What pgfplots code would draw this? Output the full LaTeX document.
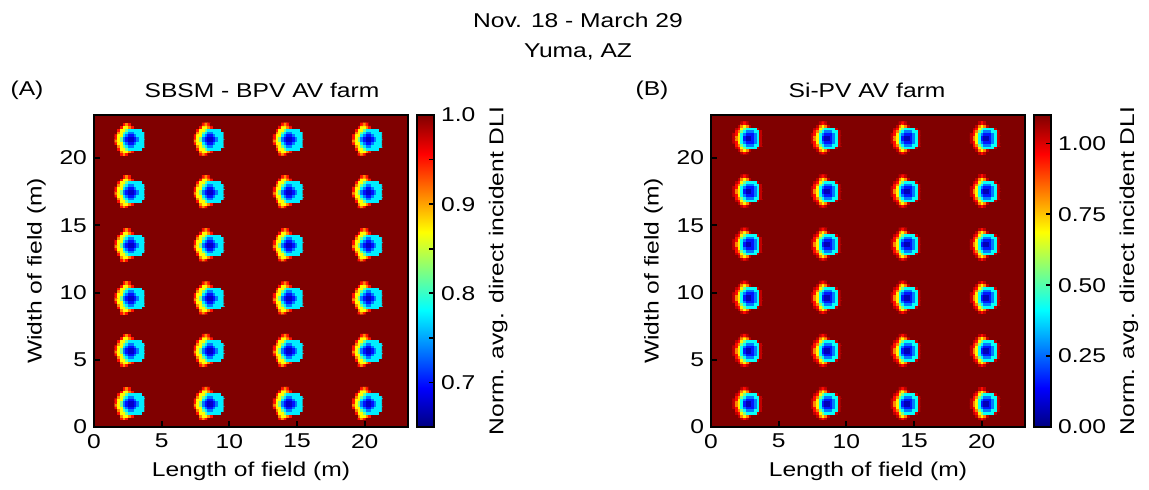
\documentclass[border=0pt]{standalone}
\usepackage{fontspec}
\setmainfont{Liberation Sans}[FakeStretch=1.23]
\usepackage{pgfplots}
\usepackage{pgfplotstable}
\pgfplotsset{compat=1.18}

% one shading spot (relative to its dark core), 0.2 m cells
\pgfplotstableread[row sep=\\]{
x y c\\
-1.1 -1.1 1\\ -0.9 -1.1 1\\ -0.7 -1.1 .95\\ -0.5 -1.1 .91\\ -0.3 -1.1 .95\\ -0.1 -1.1 1\\ 0.1 -1.1 1\\ 0.3 -1.1 1\\ 0.5 -1.1 1\\ 0.7 -1.1 1\\ 0.9 -1.1 1\\ 1.1 -1.1 1\\
-1.1 -0.9 1\\ -0.9 -0.9 1\\ -0.7 -0.9 .91\\ -0.5 -0.9 .87\\ -0.3 -0.9 .87\\ -0.1 -0.9 .91\\ 0.1 -0.9 .95\\ 0.3 -0.9 1\\ 0.5 -0.9 1\\ 0.7 -0.9 1\\ 0.9 -0.9 1\\ 1.1 -0.9 1\\
-1.1 -0.7 1\\ -0.9 -0.7 .95\\ -0.7 -0.7 .87\\ -0.5 -0.7 .87\\ -0.3 -0.7 .82\\ -0.1 -0.7 .775\\ 0.1 -0.7 .775\\ 0.3 -0.7 .775\\ 0.5 -0.7 .775\\ 0.7 -0.7 .775\\ 0.9 -0.7 1\\ 1.1 -0.7 1\\
-1.1 -0.5 1\\ -0.9 -0.5 .91\\ -0.7 -0.5 .87\\ -0.5 -0.5 .82\\ -0.3 -0.5 .775\\ -0.1 -0.5 .735\\ 0.1 -0.5 .735\\ 0.3 -0.5 .775\\ 0.5 -0.5 .775\\ 0.7 -0.5 .775\\ 0.9 -0.5 .775\\ 1.1 -0.5 1\\
-1.1 -0.3 .95\\ -0.9 -0.3 .87\\ -0.7 -0.3 .87\\ -0.5 -0.3 .775\\ -0.3 -0.3 .735\\ -0.1 -0.3 .70\\ 0.1 -0.3 .70\\ 0.3 -0.3 .735\\ 0.5 -0.3 .775\\ 0.7 -0.3 .775\\ 0.9 -0.3 .775\\ 1.1 -0.3 1\\
-1.1 -0.1 .91\\ -0.9 -0.1 .87\\ -0.7 -0.1 .82\\ -0.5 -0.1 .735\\ -0.3 -0.1 .70\\ -0.1 -0.1 .675\\ 0.1 -0.1 .675\\ 0.3 -0.1 .70\\ 0.5 -0.1 .735\\ 0.7 -0.1 .775\\ 0.9 -0.1 .775\\ 1.1 -0.1 1\\
-1.1 0.1 .95\\ -0.9 0.1 .87\\ -0.7 0.1 .82\\ -0.5 0.1 .735\\ -0.3 0.1 .70\\ -0.1 0.1 .675\\ 0.1 0.1 .675\\ 0.3 0.1 .70\\ 0.5 0.1 .735\\ 0.7 0.1 .775\\ 0.9 0.1 .775\\ 1.1 0.1 1\\
-1.1 0.3 .95\\ -0.9 0.3 .87\\ -0.7 0.3 .87\\ -0.5 0.3 .775\\ -0.3 0.3 .735\\ -0.1 0.3 .70\\ 0.1 0.3 .70\\ 0.3 0.3 .735\\ 0.5 0.3 .775\\ 0.7 0.3 .775\\ 0.9 0.3 .775\\ 1.1 0.3 1\\
-1.1 0.5 1\\ -0.9 0.5 .91\\ -0.7 0.5 .87\\ -0.5 0.5 .82\\ -0.3 0.5 .775\\ -0.1 0.5 .735\\ 0.1 0.5 .735\\ 0.3 0.5 .775\\ 0.5 0.5 .775\\ 0.7 0.5 .775\\ 0.9 0.5 .775\\ 1.1 0.5 1\\
-1.1 0.7 1\\ -0.9 0.7 .95\\ -0.7 0.7 .87\\ -0.5 0.7 .87\\ -0.3 0.7 .82\\ -0.1 0.7 .775\\ 0.1 0.7 .775\\ 0.3 0.7 .775\\ 0.5 0.7 .775\\ 0.7 0.7 .775\\ 0.9 0.7 1\\ 1.1 0.7 1\\
-1.1 0.9 1\\ -0.9 0.9 1\\ -0.7 0.9 .95\\ -0.5 0.9 .87\\ -0.3 0.9 .87\\ -0.1 0.9 .91\\ 0.1 0.9 .95\\ 0.3 0.9 1\\ 0.5 0.9 1\\ 0.7 0.9 1\\ 0.9 0.9 1\\ 1.1 0.9 1\\
-1.1 1.1 1\\ -0.9 1.1 1\\ -0.7 1.1 1\\ -0.5 1.1 .95\\ -0.3 1.1 .91\\ -0.1 1.1 .95\\ 0.1 1.1 1\\ 0.3 1.1 1\\ 0.5 1.1 1\\ 0.7 1.1 1\\ 0.9 1.1 1\\ 1.1 1.1 1\\
}\spotA

\pgfplotstableread[row sep=\\]{
x y c\\
-1.1 -1.1 1.1\\ -0.9 -1.1 1.1\\ -0.7 -1.1 1.1\\ -0.5 -1.1 1.03\\ -0.3 -1.1 .95\\ -0.1 -1.1 1.03\\ 0.1 -1.1 1.1\\ 0.3 -1.1 1.1\\ 0.5 -1.1 1.1\\ 0.7 -1.1 1.1\\ 0.9 -1.1 1.1\\ 1.1 -1.1 1.1\\
-1.1 -0.9 1.1\\ -0.9 -0.9 1.1\\ -0.7 -0.9 1.03\\ -0.5 -0.9 .82\\ -0.3 -0.9 .70\\ -0.1 -0.9 .82\\ 0.1 -0.9 1.03\\ 0.3 -0.9 1.1\\ 0.5 -0.9 1.1\\ 0.7 -0.9 1.1\\ 0.9 -0.9 1.1\\ 1.1 -0.9 1.1\\
-1.1 -0.7 1.1\\ -0.9 -0.7 1.03\\ -0.7 -0.7 .95\\ -0.5 -0.7 .70\\ -0.3 -0.7 .55\\ -0.1 -0.7 .42\\ 0.1 -0.7 .42\\ 0.3 -0.7 .42\\ 0.5 -0.7 .42\\ 0.7 -0.7 1.03\\ 0.9 -0.7 1.1\\ 1.1 -0.7 1.1\\
-1.1 -0.5 1.1\\ -0.9 -0.5 .95\\ -0.7 -0.5 .82\\ -0.5 -0.5 .55\\ -0.3 -0.5 .42\\ -0.1 -0.5 .27\\ 0.1 -0.5 .27\\ 0.3 -0.5 .27\\ 0.5 -0.5 .42\\ 0.7 -0.5 .42\\ 0.9 -0.5 1.03\\ 1.1 -0.5 1.1\\
-1.1 -0.3 1.03\\ -0.9 -0.3 .95\\ -0.7 -0.3 .70\\ -0.5 -0.3 .42\\ -0.3 -0.3 .27\\ -0.1 -0.3 .16\\ 0.1 -0.3 .16\\ 0.3 -0.3 .16\\ 0.5 -0.3 .27\\ 0.7 -0.3 .42\\ 0.9 -0.3 1.03\\ 1.1 -0.3 1.1\\
-1.1 -0.1 1.03\\ -0.9 -0.1 .82\\ -0.7 -0.1 .70\\ -0.5 -0.1 .42\\ -0.3 -0.1 .16\\ -0.1 -0.1 .06\\ 0.1 -0.1 .06\\ 0.3 -0.1 .16\\ 0.5 -0.1 .27\\ 0.7 -0.1 .42\\ 0.9 -0.1 1.03\\ 1.1 -0.1 1.1\\
-1.1 0.1 1.03\\ -0.9 0.1 .82\\ -0.7 0.1 .70\\ -0.5 0.1 .42\\ -0.3 0.1 .16\\ -0.1 0.1 .06\\ 0.1 0.1 .06\\ 0.3 0.1 .16\\ 0.5 0.1 .27\\ 0.7 0.1 .42\\ 0.9 0.1 1.03\\ 1.1 0.1 1.1\\
-1.1 0.3 1.03\\ -0.9 0.3 .95\\ -0.7 0.3 .70\\ -0.5 0.3 .42\\ -0.3 0.3 .27\\ -0.1 0.3 .16\\ 0.1 0.3 .16\\ 0.3 0.3 .16\\ 0.5 0.3 .27\\ 0.7 0.3 .42\\ 0.9 0.3 1.03\\ 1.1 0.3 1.1\\
-1.1 0.5 1.1\\ -0.9 0.5 .95\\ -0.7 0.5 .82\\ -0.5 0.5 .55\\ -0.3 0.5 .42\\ -0.1 0.5 .27\\ 0.1 0.5 .27\\ 0.3 0.5 .27\\ 0.5 0.5 .42\\ 0.7 0.5 .42\\ 0.9 0.5 1.03\\ 1.1 0.5 1.1\\
-1.1 0.7 1.1\\ -0.9 0.7 1.03\\ -0.7 0.7 .95\\ -0.5 0.7 .70\\ -0.3 0.7 .55\\ -0.1 0.7 .42\\ 0.1 0.7 .42\\ 0.3 0.7 .42\\ 0.5 0.7 .42\\ 0.7 0.7 1.03\\ 0.9 0.7 1.1\\ 1.1 0.7 1.1\\
-1.1 0.9 1.1\\ -0.9 0.9 1.1\\ -0.7 0.9 1.03\\ -0.5 0.9 .82\\ -0.3 0.9 .70\\ -0.1 0.9 .82\\ 0.1 0.9 1.03\\ 0.3 0.9 1.1\\ 0.5 0.9 1.1\\ 0.7 0.9 1.1\\ 0.9 0.9 1.1\\ 1.1 0.9 1.1\\
-1.1 1.1 1.1\\ -0.9 1.1 1.1\\ -0.7 1.1 1.1\\ -0.5 1.1 1.03\\ -0.3 1.1 .95\\ -0.1 1.1 1.03\\ 0.1 1.1 1.1\\ 0.3 1.1 1.1\\ 0.5 1.1 1.1\\ 0.7 1.1 1.1\\ 0.9 1.1 1.1\\ 1.1 1.1 1.1\\
}\spotB

\pgfplotsset{
  field/.style={
    scale only axis, width=157pt, height=156pt,
    xmin=0, xmax=23.2, ymin=0, ymax=23.2,
    xtick={0,5,10,15,20}, ytick={0,5,10,15,20},
    tick align=inside, xtick pos=left, ytick pos=left,
    major tick length=3pt,
    every tick/.style={black, line width=1pt},
    axis line style={line width=1pt},
    axis on top,
    colormap/jet,
    xlabel={Length of field (m)}, ylabel={Width of field (m)},
    /pgf/number format/assume math mode=true,
    colorbar,
    colorbar shift/.style={xshift=4pt},
  },
  cbar/.style={
    width=8.5pt,
    ylabel={Norm. avg. direct incident DLI},
    tick align=inside, ytick pos=right,
    major tick length=2.5pt, minor tick length=2.5pt,
    every tick/.style={black, line width=0.8pt},
    axis line style={line width=0.6pt},
    /pgf/number format/assume math mode=true,
  },
}

\begin{document}
\begin{tikzpicture}[font=\fontsize{10}{12}\selectfont]
\useasboundingbox (-47pt,-31.5pt) rectangle (527.5pt,213.5pt);

\begin{axis}[field, at={(0pt,0pt)}, anchor=south west,
    point meta min=0.65, point meta max=1.0,
    colorbar style={cbar, ytick={0.7,0.8,0.9,1.0},
      minor ytick={0.75,0.85,0.95},
      yticklabel style={/pgf/number format/.cd, fixed, fixed zerofill, precision=1}}]
\addplot[matrix plot*, mesh/cols=2, point meta=explicit]
  coordinates {(5.8,5.8) [1] (17.4,5.8) [1] (5.8,17.4) [1] (17.4,17.4) [1]};
\pgfplotsinvokeforeach{2.75,8.6,14.45,20.3}{
  \addplot[matrix plot*, mesh/cols=12, point meta=explicit] table[x expr=\thisrow{x}+#1, y expr=\thisrow{y}+21.4, meta=c] {\spotA};
  \addplot[matrix plot*, mesh/cols=12, point meta=explicit] table[x expr=\thisrow{x}+#1, y expr=\thisrow{y}+17.5, meta=c] {\spotA};
  \addplot[matrix plot*, mesh/cols=12, point meta=explicit] table[x expr=\thisrow{x}+#1, y expr=\thisrow{y}+13.55, meta=c] {\spotA};
  \addplot[matrix plot*, mesh/cols=12, point meta=explicit] table[x expr=\thisrow{x}+#1, y expr=\thisrow{y}+9.6, meta=c] {\spotA};
  \addplot[matrix plot*, mesh/cols=12, point meta=explicit] table[x expr=\thisrow{x}+#1, y expr=\thisrow{y}+5.7, meta=c] {\spotA};
  \addplot[matrix plot*, mesh/cols=12, point meta=explicit] table[x expr=\thisrow{x}+#1, y expr=\thisrow{y}+1.75, meta=c] {\spotA};
}
\end{axis}

\begin{axis}[field, at={(308.5pt,0pt)}, anchor=south west,
    point meta min=0, point meta max=1.1,
    colorbar style={cbar, ytick={0,0.25,0.5,0.75,1},
      yticklabel style={/pgf/number format/.cd, fixed, fixed zerofill, precision=2}}]
\addplot[matrix plot*, mesh/cols=2, point meta=explicit]
  coordinates {(5.8,5.8) [1.1] (17.4,5.8) [1.1] (5.8,17.4) [1.1] (17.4,17.4) [1.1]};
\pgfplotsinvokeforeach{2.8,8.6,14.5,20.35}{
  \addplot[matrix plot*, mesh/cols=12, point meta=explicit] table[x expr=\thisrow{x}+#1, y expr=\thisrow{y}+21.5, meta=c] {\spotB};
  \addplot[matrix plot*, mesh/cols=12, point meta=explicit] table[x expr=\thisrow{x}+#1, y expr=\thisrow{y}+17.55, meta=c] {\spotB};
  \addplot[matrix plot*, mesh/cols=12, point meta=explicit] table[x expr=\thisrow{x}+#1, y expr=\thisrow{y}+13.6, meta=c] {\spotB};
  \addplot[matrix plot*, mesh/cols=12, point meta=explicit] table[x expr=\thisrow{x}+#1, y expr=\thisrow{y}+9.65, meta=c] {\spotB};
  \addplot[matrix plot*, mesh/cols=12, point meta=explicit] table[x expr=\thisrow{x}+#1, y expr=\thisrow{y}+5.7, meta=c] {\spotB};
  \addplot[matrix plot*, mesh/cols=12, point meta=explicit] table[x expr=\thisrow{x}+#1, y expr=\thisrow{y}+1.75, meta=c] {\spotB};
}
\end{axis}

\node at (242pt,203.5pt) {Nov. 18 - March 29};
\node at (242pt,187.5pt) {Yuma, AZ};
\node at (-33.5pt,168.5pt) {(A)};
\node at (84pt,168.5pt) {SBSM - BPV AV farm};
\node at (279pt,168.5pt) {(B)};
\node at (386.5pt,168.5pt) {Si-PV AV farm};
\end{tikzpicture}
\end{document}
